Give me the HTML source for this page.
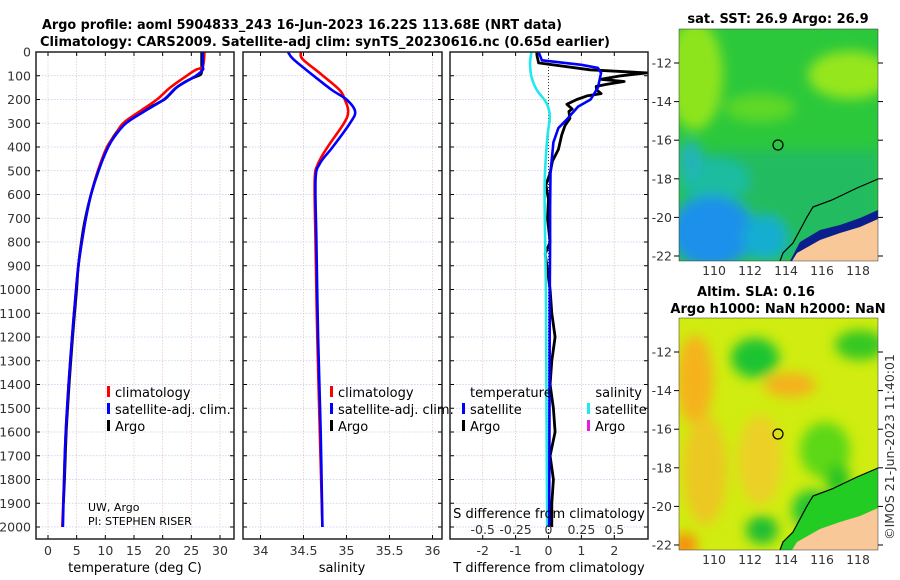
<!DOCTYPE html>
<html><head><meta charset="utf-8">
<style>
html,body{margin:0;padding:0;background:#fff;}
svg{display:block;font-family:"DejaVu Sans","Liberation Sans",sans-serif;}
.tk{font-size:12.5px;fill:#333;}
.tt{font-size:13px;font-weight:bold;fill:#000;}
.lg{font-size:13px;fill:#000;}
</style></head>
<body>
<svg id="chart" width="900" height="580" viewBox="0 0 900 580" xmlns="http://www.w3.org/2000/svg">
<defs>
<filter id="blur1" x="-50%" y="-50%" width="200%" height="200%"><feGaussianBlur stdDeviation="6"/></filter>
<filter id="blur2" x="-50%" y="-50%" width="200%" height="200%"><feGaussianBlur stdDeviation="6"/></filter>
<clipPath id="clipM1"><rect x="679" y="29" width="199" height="232"/></clipPath>
<clipPath id="clipM2"><rect x="679" y="318" width="199" height="232"/></clipPath>
<clipPath id="clipP1"><rect x="36" y="52" width="198" height="487"/></clipPath>
<clipPath id="clipP2"><rect x="243" y="52" width="199" height="487"/></clipPath>
<clipPath id="clipP3"><rect x="450" y="52" width="198" height="487"/></clipPath>
</defs>
<text class="tt" x="42" y="29" textLength="520" lengthAdjust="spacingAndGlyphs">Argo profile: aoml 5904833_243 16-Jun-2023 16.22S 113.68E (NRT data)</text>
<text class="tt" x="40" y="46" textLength="570" lengthAdjust="spacingAndGlyphs">Climatology: CARS2009. Satellite-adj clim: synTS_20230616.nc (0.65d earlier)</text>
<g id="g1"></g>
<g id="g2"></g>
<g id="g3"></g>

<!-- SST map -->
<g>
<text class="tt" x="778" y="23" text-anchor="middle">sat. SST: 26.9 Argo: 26.9</text>
<g clip-path="url(#clipM1)">
<rect x="679" y="29" width="199" height="232" fill="#2cc83c"/>
<g filter="url(#blur1)">
<rect x="679" y="150" width="199" height="111" fill="#22bb5e"/>
<ellipse cx="695" cy="75" rx="28" ry="55" fill="#8ee41c"/>
<ellipse cx="850" cy="75" rx="42" ry="24" fill="#96e61a"/>
<ellipse cx="760" cy="108" rx="35" ry="14" fill="#5ed826"/>
<ellipse cx="715" cy="180" rx="35" ry="22" fill="#1ebca0"/>
<ellipse cx="712" cy="232" rx="42" ry="36" fill="#1e90ea"/>
<ellipse cx="765" cy="238" rx="22" ry="22" fill="#18aed0"/>
<ellipse cx="690" cy="160" rx="12" ry="20" fill="#22b4b8"/>
</g>
<polygon points="878,210 860,218 840,225 820,230 800,242 790,261 878,261" fill="#0a1e8c"/>
<polygon points="878,219 860,227 840,233 820,240 797,253 792,261 878,261" fill="#f8c898"/>
<polyline points="878,179 857,188 832,200 813,207 807,217 800,230 793,243 783,253 780,261" fill="none" stroke="#000" stroke-width="1.2"/>
<circle cx="778" cy="145" r="5" fill="none" stroke="#000" stroke-width="1.2"/>
</g>
<rect x="679" y="29" width="199" height="232" fill="none" stroke="#333" stroke-width="0.5"/>
<g id="m1ticks"></g>
</g>

<!-- SLA map -->
<g>
<text class="tt" x="756" y="296" text-anchor="middle">Altim. SLA: 0.16</text>
<text class="tt" x="778" y="313" text-anchor="middle">Argo h1000: NaN h2000: NaN</text>
<g clip-path="url(#clipM2)">
<rect x="679" y="318" width="199" height="232" fill="#d0ec10"/>
<g filter="url(#blur2)">
<ellipse cx="695" cy="380" rx="18" ry="45" fill="#f5b21a"/>
<ellipse cx="790" cy="385" rx="26" ry="12" fill="#f5b01a"/>
<ellipse cx="705" cy="470" rx="22" ry="55" fill="#ecc824"/>
<ellipse cx="760" cy="460" rx="22" ry="45" fill="#ecd028"/>
<ellipse cx="755" cy="358" rx="24" ry="20" fill="#1ec432"/>
<ellipse cx="860" cy="345" rx="25" ry="15" fill="#34c822"/>
<ellipse cx="825" cy="450" rx="25" ry="28" fill="#5cd814"/>
<ellipse cx="838" cy="480" rx="12" ry="16" fill="#28c424"/>
<ellipse cx="762" cy="530" rx="16" ry="14" fill="#1ebe30"/>
<ellipse cx="812" cy="510" rx="20" ry="20" fill="#22c630"/>
<ellipse cx="685" cy="545" rx="12" ry="12" fill="#f88c10"/>
</g>
<polygon points="878,468 857,477 832,489 813,496 807,506 800,519 793,532 783,542 780,550 878,550" fill="#22cc22"/>
<polygon points="878,508 860,516 840,522 820,529 797,542 792,550 878,550" fill="#f8c898"/>
<polyline points="878,468 857,477 832,489 813,496 807,506 800,519 793,532 783,542 780,550" fill="none" stroke="#000" stroke-width="1.2"/>
<circle cx="778" cy="434" r="5" fill="none" stroke="#000" stroke-width="1.2"/>
</g>
<rect x="679" y="318" width="199" height="232" fill="none" stroke="#333" stroke-width="0.5"/>
<g id="m2ticks"></g>
</g>
<text class="tk" transform="translate(894,447) rotate(-90)" text-anchor="middle">©IMOS 21-Jun-2023 11:40:01</text>
</svg>
<script>
// ---- data ----
const depthTicks = [0,100,200,300,400,500,600,700,800,900,1000,1100,1200,1300,1400,1500,1600,1700,1800,1900,2000];
const tempTicks = [0,5,10,15,20,25,30];
const salTicks = [34,34.5,35,35.5,36];
const salTickLabels = ["34","34.5","35","35.5","36"];
const dTTicks = [-2,-1,0,1,2];
const dSTicks = [-0.5,-0.25,0,0.25,0.5];
const dSTickLabels = ["-0.5","-0.25","0","0.25","0.5"];

const tDepth = [0,60,75,100,150,200,250,300,350,400,500,600,700,800,900,1000,1200,1400,1600,1800,2000];
const tempClim = [27.3,27.0,25.8,24.2,21.3,19.0,16.0,13.1,11.7,10.3,8.7,7.5,6.6,5.9,5.3,4.9,4.2,3.6,3.1,2.8,2.5];
const tempSat  = [27.0,27.0,27.0,25.8,22.4,20.2,16.8,13.6,11.8,10.5,8.8,7.5,6.6,5.9,5.3,4.9,4.2,3.6,3.1,2.8,2.6];
const argoDepth = [0,50,80,95,110,130,150,180,200,230,260,280,300,350,400,500,600,700,800,900,1000,1200,1400,1600,1800,1900];
const tempArgo  = [26.8,26.8,26.8,26.6,25.2,23.6,22.4,21.2,20.3,18.0,16.0,14.2,13.2,11.6,10.4,8.8,7.5,6.5,5.8,5.3,5.0,4.3,3.7,3.2,2.9,2.7];

const sDepth = [0,30,95,160,200,250,300,400,470,540,800,1200,1600,2000];
const salClim = [34.47,34.49,34.71,34.92,34.98,35.02,34.97,34.78,34.67,34.63,34.64,34.66,34.69,34.72];
const salSat  = [34.32,34.38,34.60,34.83,35.00,35.10,35.04,34.84,34.69,34.64,34.65,34.67,34.70,34.72];

const dArgoDepth = [0,15,46,75,88,100,115,124,135,145,159,175,185,200,220,240,250,280,310,350,410,460,510,560,620,700,800,850,900,1000,1100,1200,1300,1400,1500,1600,1700,1800,1900,2000];
const dTArgo =     [-0.36,-0.35,-0.3,1.26,3.0,2.2,1.6,2.3,1.8,1.45,1.46,1.6,1.17,0.86,0.56,0.72,0.62,0.65,0.5,0.4,0.3,0.12,0.05,-0.08,0.0,-0.03,0.05,-0.1,-0.05,0.05,0.1,0.2,0.1,0.05,0.15,0.2,0.05,0.15,0.1,0.1];
const dSatDepth = [0,35,54,67,88,150,200,230,285,320,380,510,650,800,1000,1500,2000];
const dTSat = [-0.3,-0.2,1.0,1.5,1.6,1.5,1.28,0.9,0.55,0.3,0.15,0.06,0.05,0.05,0.04,0.03,0.02];
const dSDepth = [0,46,103,159,215,271,341,440,600,1000,1500,2000];
const dSSat = [-0.13,-0.14,-0.13,-0.09,-0.015,0.01,-0.005,-0.02,-0.03,-0.02,-0.015,-0.01];

const latTicks = [-12,-14,-16,-18,-20,-22];
const lonTicks = [110,112,114,116,118];

// ---- scales ----
const NS="http://www.w3.org/2000/svg";
const Y = d => 52 + d*0.2375;
const XT = t => 48 + t*5.733;
const XS = s => 260.5 + (s-34)*86;
const XdT = v => 548.5 + v*32.9;
const XdS = v => 548.5 + v*131.6;
function mk(parent, tag, attrs, text){
  const e=document.createElementNS(NS,tag);
  for(const k in attrs) e.setAttribute(k,attrs[k]);
  if(text!==undefined) e.textContent=text;
  parent.appendChild(e); return e;
}
function pathD(xs, ds, fx){ return xs.map((v,i)=>(i?'L':'M')+fx(v).toFixed(1)+','+Y(ds[i]).toFixed(1)).join(''); }
function smoothD(xs, ds, fx){
  const p=xs.map((v,i)=>[fx(v),Y(ds[i])]);
  let d='M'+p[0][0].toFixed(1)+','+p[0][1].toFixed(1);
  for(let i=0;i<p.length-1;i++){
    const p0=p[Math.max(0,i-1)],p1=p[i],p2=p[i+1],p3=p[Math.min(p.length-1,i+2)];
    const c1=[p1[0]+(p2[0]-p0[0])/6,p1[1]+(p2[1]-p0[1])/6];
    const c2=[p2[0]-(p3[0]-p1[0])/6,p2[1]-(p3[1]-p1[1])/6];
    d+='C'+c1.map(v=>v.toFixed(1)).join(',')+' '+c2.map(v=>v.toFixed(1)).join(',')+' '+p2[0].toFixed(1)+','+p2[1].toFixed(1);
  }
  return d;
}

function panel(g, x0, x1, xtickVals, fx, xlabels, showY){
  const bottom=539;
  const grid=mk(g,'g',{});
  
  
  depthTicks.forEach(d=>{
    const l=mk(grid,'line',{x1:x0,x2:x1,y1:Y(d),y2:Y(d),stroke:'#c4c8ee','stroke-width':0.8,'stroke-dasharray':'1.5,1.5'});
    
    
    mk(g,'line',{x1:x0,x2:x0+4,y1:Y(d),y2:Y(d),stroke:'#000'});
    mk(g,'line',{x1:x1-4,x2:x1,y1:Y(d),y2:Y(d),stroke:'#000'});
    if(showY){
      const t=mk(g,'text',{class:'tk',x:x0-5,y:Y(d)+4.5,'text-anchor':'end'},String(d));
      
      
    }
  });
  xtickVals.forEach((v,i)=>{
    const x=fx(v);
    const l=mk(grid,'line',{x1:x,x2:x,y1:52,y2:bottom,stroke:'#e8c8c8','stroke-width':0.8,'stroke-dasharray':'1.5,1.5'});
    
    
    mk(g,'line',{x1:x,x2:x,y1:52,y2:56,stroke:'#000'});
    mk(g,'line',{x1:x,x2:x,y1:bottom-4,y2:bottom,stroke:'#000'});
    const t=mk(g,'text',{class:'tk',x:x,y:555,'text-anchor':'middle'},xlabels[i]);
    
    
  });
}
function frame(g,x0,x1){
  const r=mk(g,'rect',{x:x0,y:52,width:x1-x0,height:487,fill:'none',stroke:'#222','stroke-width':1.5});
  
  
}
function line(g, clip, d, color, w, name){
  const p=mk(g,'path',{d:d,fill:'none',stroke:color,'stroke-width':w,'stroke-linejoin':'round','clip-path':clip});
  
  
}
function legendItem(g,x,y,color,label,name){
  const it=mk(g,'g',{});
  
  
  mk(it,'rect',{x:x,y:y-11,width:3,height:11,fill:color});
  mk(it,'text',{class:'lg',x:x+8,y:y},label);
}

// Panel 1 temperature
const g1=document.getElementById('g1');
panel(g1,36,234,tempTicks,XT,tempTicks.map(String),true);
line(g1,'url(#clipP1)',smoothD(tempArgo,argoDepth,XT),'#000',2.6,'argo-temperature-line');
line(g1,'url(#clipP1)',smoothD(tempClim,tDepth,XT),'#f00',2.6,'climatology-temperature-line');
line(g1,'url(#clipP1)',smoothD(tempSat,tDepth,XT),'#00f',2.6,'satellite-temperature-line');
frame(g1,36,234);
legendItem(g1,107,397,'#f00','climatology','legend-climatology');
legendItem(g1,107,414,'#00f','satellite-adj. clim.','legend-satellite');
legendItem(g1,107,431,'#000','Argo','legend-argo');
mk(g1,'text',{class:'lg',x:88,y:511,style:'font-size:11px'},'UW, Argo');
mk(g1,'text',{class:'lg',x:88,y:525,style:'font-size:11px'},'PI: STEPHEN RISER');
mk(g1,'text',{class:'lg',x:135,y:572,'text-anchor':'middle'},'temperature (deg C)');

// Panel 2 salinity
const g2=document.getElementById('g2');
panel(g2,243,442,salTicks,XS,salTickLabels,false);
line(g2,'url(#clipP2)',smoothD(salClim,sDepth,XS),'#f00',2.6,'climatology-salinity-line');
line(g2,'url(#clipP2)',smoothD(salSat,sDepth,XS),'#00f',2.6,'satellite-salinity-line');
frame(g2,243,442);
legendItem(g2,330,397,'#f00','climatology','legend-climatology-2');
legendItem(g2,330,414,'#00f','satellite-adj. clim.','legend-satellite-2');
legendItem(g2,330,431,'#000','Argo','legend-argo-2');
mk(g2,'text',{class:'lg',x:342,y:572,'text-anchor':'middle'},'salinity');

// Panel 3 differences
const g3=document.getElementById('g3');
panel(g3,450,648,dTTicks,XdT,dTTicks.map(String),false);
mk(g3,'line',{x1:548.5,x2:548.5,y1:52,y2:539,stroke:'#333','stroke-width':1,'stroke-dasharray':'1,2'});
line(g3,'url(#clipP3)',pathD(dTArgo,dArgoDepth,XdT),'#000',2.8,'argo-temperature-difference-line');
line(g3,'url(#clipP3)',smoothD(dSSat,dSDepth,XdS),'#22e8ee',2.6,'satellite-salinity-difference-line');
line(g3,'url(#clipP3)',pathD(dTSat,dSatDepth,XdT),'#00f',2.6,'satellite-temperature-difference-line');
frame(g3,450,648);
mk(g3,'text',{class:'lg',x:470,y:397},'temperature');
mk(g3,'text',{class:'lg',x:642,y:397,'text-anchor':'end'},'salinity');
legendItem(g3,462,414,'#00f','satellite','legend-temp-satellite');
legendItem(g3,462,431,'#000','Argo','legend-temp-argo');
legendItem(g3,587,414,'#22e8ee','satellite','legend-sal-satellite');
legendItem(g3,587,431,'#e020e0','Argo','legend-sal-argo');
mk(g3,'text',{class:'lg',x:549,y:518,'text-anchor':'middle'},'S difference from climatology');
dSTicks.forEach((v,i)=>{
  const t=mk(g3,'text',{class:'tk',x:XdS(v),y:534,'text-anchor':'middle'},dSTickLabels[i]);
  
  
});
mk(g3,'text',{class:'lg',x:549,y:572,'text-anchor':'middle'},'T difference from climatology');

// Map ticks
function mapTicks(id, top){
  const g=document.getElementById(id);
  const latY = la => top + 34 + (-12-la)*19.3;
  const lonX = lo => 714 + (lo-110)*18;
  latTicks.forEach(la=>{
    const y=latY(la);
    mk(g,'line',{x1:679,x2:674,y1:y,y2:y,stroke:'#000'});
    mk(g,'line',{x1:878,x2:883,y1:y,y2:y,stroke:'#000'});
    const t=mk(g,'text',{class:'tk',x:672,y:y+4.5,'text-anchor':'end'},String(la));
    
    
  });
  lonTicks.forEach(lo=>{
    const x=lonX(lo);
    const t=mk(g,'text',{class:'tk',x:x,y:top+246,'text-anchor':'middle'},String(lo));
    
    
  });
}
mapTicks('m1ticks',29);
mapTicks('m2ticks',318);
</script>
</body></html>
